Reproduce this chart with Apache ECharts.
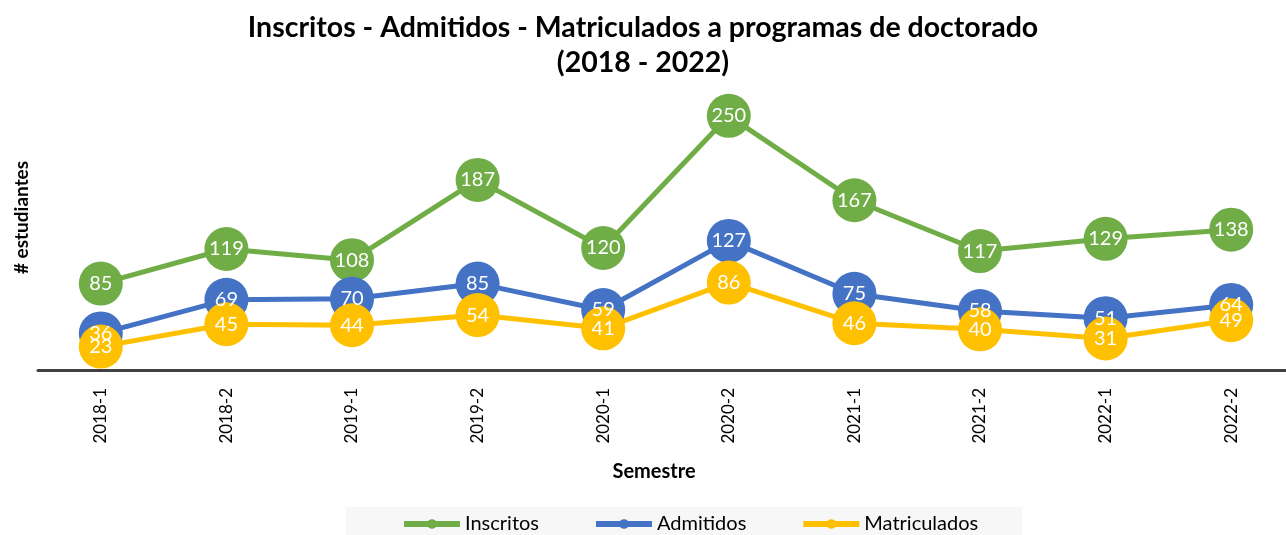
<!DOCTYPE html>
<html>
<head>
<meta charset="utf-8">
<script src="https://cdn.jsdelivr.net/npm/echarts@6/dist/echarts.min.js"></script>
<style>
  html, body { margin: 0; padding: 0; background: #fff; }
  #chart { width: 1286px; height: 535px; }
</style>
</head>
<body>
<div id="chart"></div>
<script>
const semestres = ['2018-1', '2018-2', '2019-1', '2019-2', '2020-1', '2020-2', '2021-1', '2021-2', '2022-1', '2022-2'];
const inscritos = [85, 119, 108, 187, 120, 250, 167, 117, 129, 138];
const admitidos = [36, 69, 70, 85, 59, 127, 75, 58, 51, 64];
const matriculados = [23, 45, 44, 54, 41, 86, 46, 40, 31, 49];

const font = 'Lato';

function serie(name, color, data) {
  return {
    name: name,
    type: 'line',
    data: data,
    symbol: 'circle',
    symbolSize: 44,
    itemStyle: { color: color },
    lineStyle: { color: color, width: 5 },
    label: {
      show: true,
      position: 'inside',
      color: '#fff',
      fontFamily: font,
      fontSize: 20
    }
  };
}

let chart = echarts.init(document.getElementById('chart'));
let option = {
  animation: false,
  textStyle: { fontFamily: font },
  title: {
    text: 'Inscritos - Admitidos - Matriculados a programas de doctorado\n(2018 - 2022)',
    left: 'center',
    top: 5,
    textStyle: { fontFamily: font, fontSize: 28.5, fontWeight: 'bold', color: '#000', lineHeight: 35 }
  },
  graphic: [{
    type: 'rect',
    shape: { x: 346, y: 507, width: 676, height: 28 },
    style: { fill: '#f7f7f7' },
    z: -1
  }],
  legend: {
    top: 509,
    left: 396,
    itemWidth: 56,
    itemHeight: 12,
    itemGap: 54,
    lineStyle: { width: 6 },
    textStyle: { fontFamily: font, fontSize: 20, color: '#000' },
    data: ['Inscritos', 'Admitidos', 'Matriculados']
  },
  grid: { left: 38, top: 65, width: 1256, height: 305, outerBoundsMode: 'none' },
  xAxis: {
    type: 'category',
    data: semestres,
    name: 'Semestre',
    nameLocation: 'middle',
    nameGap: 92,
    nameTextStyle: { fontFamily: font, fontSize: 20, fontWeight: 'bold', color: '#000', padding: [0, 24, 0, 0] },
    axisLine: { lineStyle: { color: '#404040', width: 3 } },
    axisTick: { show: false },
    axisLabel: { rotate: 90, fontFamily: font, fontSize: 17, color: '#000', margin: 18 }
  },
  yAxis: {
    type: 'value',
    min: 0,
    max: 300,
    name: '# estudiantes',
    nameLocation: 'middle',
    nameGap: 7,
    nameTextStyle: { fontFamily: font, fontSize: 19, fontWeight: 'bold', color: '#000' },
    axisLine: { show: false },
    axisTick: { show: false },
    axisLabel: { show: false },
    splitLine: { show: false }
  },
  series: [
    serie('Inscritos', '#70AD47', inscritos),
    serie('Admitidos', '#4472C4', admitidos),
    serie('Matriculados', '#FFC000', matriculados)
  ]
};
chart.setOption(option);
</script>
</body>
</html>
